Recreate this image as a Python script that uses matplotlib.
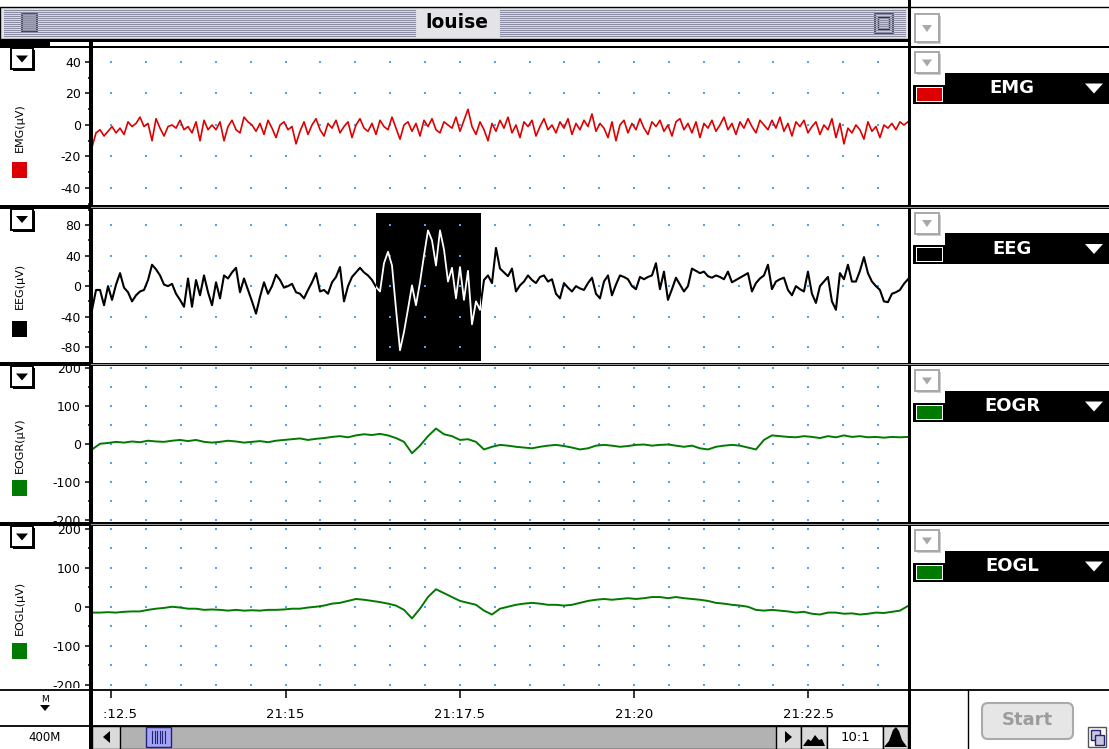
import numpy as np
import matplotlib
matplotlib.use("Agg")
import matplotlib.pyplot as plt
from matplotlib.patches import Rectangle, FancyBboxPatch, Polygon
from matplotlib.transforms import Bbox, TransformedBbox

plt.rcParams['font.family'] = 'DejaVu Sans'
plt.rcParams['axes.unicode_minus'] = False

# ---- recording (time in minutes after 21:00) ----
rec_start, rec_end = 12.222, 23.929
sel_start, sel_end = 16.30, 17.80      # highlighted EEG selection
sel_low, sel_high = -98, 96

channels = ['EMG', 'EEG', 'EOGR', 'EOGL']
unit = 'µV'
colors = ['#dd0000', '#000000', '#007a00', '#007a00']

emg = [-14, -5, -3, -7, -4, -1, -5, -2, -6, 2,
       -1, 1, 5, -1, 1, -10, 4, -2, -7, -1,
       0, -2, 3, -3, -1, -5, 2, -10, 3, -3,
       0, -3, 2, -10, -1, 3, -3, -5, 5, 2,
       0, -4, 1, -6, 3, -2, -8, 0, 2, -3,
       -1, -12, -4, 2, -6, 0, 4, -3, -7, 1,
       -2, 3, -5, -1, 2, -8, 0, 4, -2, -4,
       1, -6, 3, -1, -3, 5, -2, -9, 0, 2,
       -4, 1, -7, 3, -1, 4, -3, -5, 2, 0,
       -2, 5, -4, 3, 10, -1, -6, 2, -3, -10,
       1, -4, 3, -2, 5, -5, 0, -8, 2, -1,
       3, -7, -1, 4, -3, 0, -5, 2, -2, 4,
       -6, 1, -3, 3, -1, 7, -4, 1, -2, -8,
       2, -10, 0, 3, -5, 1, -3, 4, -2, -6,
       2, -1, 3, -4, 0, -7, 2, 4, -3, 1,
       -5, 2, -8, 1, -2, 3, -4, 0, 5, -3,
       1, -6, 2, -2, 4, -1, -5, 3, 0, -3,
       3, -2, 5, -4, 1, -7, 2, -1, 3, -5,
       -1, 2, -6, 0, -3, 4, -8, 1, -12, -2,
       -5, 0, -3, -9, 2, -4, -1, -8, 0, -2,
       1, -3, 2, 0, 2]

eeg = [-31, -5, -5, -25, 0, -18, 2, 17, -2, -8,
       -20, -12, -7, -5, 8, 28, 22, 14, 2, 0,
       3, -10, -18, -27, 10, -27, 8, -12, 14, -8,
       -25, 5, -16, 14, 10, 18, 24, -8, 10, -5,
       -20, -36, -14, 5, -10, 0, 15, 8, -2, 0,
       3, -8, -10, -16, -5, 5, 17, -7, -5, -10,
       5, 12, 25, -20, 0, 12, 18, 24, 18, 14,
       8, -1, -7, 30, 45, 27, -30, -84, -60, -30,
       1, -25, 5, 40, 73, 60, 27, 73, 48, 6,
       24, -16, 25, -18, 20, -50, -20, -31, 8, 14,
       4, 50, 23, 18, 13, 23, -7, 1, 6, 14,
       8, 4, 12, 14, 6, 9, -10, -16, 4, -2,
       -7, 0, -3, -5, 4, 11, -10, -16, 6, 14,
       -12, 2, 14, 12, 9, 0, -4, 12, 9, 12,
       14, 30, -4, 19, -18, -4, 11, 2, -7, 0,
       23, 20, 17, 19, 13, 11, 14, 12, 9, 19,
       5, 8, 11, 14, 17, -7, 4, 10, 14, 28,
       -4, 6, 9, 11, -5, -12, 0, -4, -7, 19,
       -10, -22, 0, 6, 12, -20, -31, 17, 9, 28,
       6, 6, 20, 38, 17, 6, 0, -5, -20, -21,
       -10, -8, -5, 3, 9]

eogr = [-15, 0, 2, 5, 3, 6, 4, 8, 6, 5,
        8, 10, 7, 10, 5, 3, 5, 8, 6, 3,
        5, 7, 4, 8, 10, 12, 14, 10, 13, 15,
        18, 20, 17, 22, 25, 23, 26, 22, 15, 5,
        -25, -5, 20, 40, 25, 20, 10, 12, 5, -15,
        -8, -3, -5, -8, -10, -12, -8, -5, -3, -6,
        -10, -15, -12, -5, -3, -5, -8, -6, -3, -2,
        -5, -3, -2, -5, -8, -5, -12, -15, -8, -5,
        -3, -5, -10, -15, 10, 22, 20, 18, 17, 20,
        18, 15, 20, 17, 22, 18, 20, 17, 18, 16,
        18, 17, 18]

eogl = [-15, -15, -14, -15, -13, -12, -12, -8, -5, -3,
        0, -2, -5, -5, -8, -7, -8, -10, -8, -10,
        -9, -10, -8, -8, -7, -5, -5, -2, 0, 3,
        8, 10, 15, 20, 18, 15, 12, 8, 3, -8,
        -30, -5, 25, 45, 35, 25, 15, 10, 5, -10,
        -20, -5, 0, 5, 8, 10, 8, 5, 5, 3,
        5, 10, 15, 18, 20, 18, 20, 22, 20, 22,
        25, 25, 22, 25, 22, 20, 18, 15, 10, 8,
        5, 3, 0, -8, -10, -8, -10, -12, -15, -13,
        -18, -20, -15, -15, -18, -17, -20, -18, -15, -16,
        -13, -10, 2]

time_ticks = [12.5, 15, 17.5, 20, 22.5]
time_labels = ['21:12.5', '21:15', '21:17.5', '21:20', '21:22.5']

yticks = [[-40, -20, 0, 20, 40], [-80, -40, 0, 40, 80],
          [-200, -100, 0, 100, 200], [-200, -100, 0, 100, 200]]
yminor = [[-50, -30, -10, 10, 30], [-100, -60, -20, 20, 60, 100],
          [-150, -50, 50, 150], [-150, -50, 50, 150]]
ygrid = [[-40, -20, 0, 20, 40], [-80, -40, 0, 40, 80],
         [-200, -150, -100, -50, 0, 50, 100, 150, 200],
         [-200, -150, -100, -50, 0, 50, 100, 150, 200]]
ylims = [(-50.8, 49.2), (-99.7, 102.3), (-206, 206), (-209, 209)]

series = [emg, eeg, eogr, eogl]
widths = [1.2, 1.5, 1.4, 1.4]

# ---- layout (pixels) ----
W, H = 1109, 749
fig = plt.figure(figsize=(W / 100, H / 100), dpi=100)


def frac(x0, y0, x1, y1):
    return [x0 / W, 1 - y1 / H, (x1 - x0) / W, (y1 - y0) / H]


def pix_bbox(x0, y0, x1, y1):
    return TransformedBbox(Bbox.from_extents(x0 / W, 1 - y1 / H, x1 / W, 1 - y0 / H),
                           fig.transFigure)


back = fig.add_axes([0, 0, 1, 1], zorder=0)
back.set_xlim(0, W)
back.set_ylim(H, 0)
back.axis('off')
front = fig.add_axes([0, 0, 1, 1], zorder=5)
front.set_xlim(0, W)
front.set_ylim(H, 0)
front.axis('off')

PX0, PX1 = 90.5, 908
XLIM = (12.2, 23.93)
rows = [(47.5, 205), (208, 362.5), (365.5, 522), (525.5, 688)]


def box(ax, x0, y0, x1, y1, **kw):
    ax.add_patch(Rectangle((x0, y0), x1 - x0, y1 - y0, **kw))


def menu_box(ax, x, y, w, h, active=True):
    edge = 'black' if active else '#a8a8a8'
    shadow = 'black' if active else '#cccccc'
    box(ax, x + 2, y + 2, x + w + 2, y + h + 2, facecolor=shadow, edgecolor='none')
    box(ax, x, y, x + w, y + h, facecolor='white', edgecolor=edge, lw=1.4)
    cx, cy = x + w / 2, y + h / 2
    s = 6 if active else 5
    ax.add_patch(Polygon([(cx - s, cy - 3), (cx + s, cy - 3), (cx, cy + 4)],
                         closed=True, facecolor=edge, edgecolor='none'))


# ---- title bar ----
box(back, 0, 7, 909, 39, facecolor='#e4e4e8', edgecolor='black', lw=1)
for yy in np.arange(10, 37, 2):
    back.plot([4, 415], [yy, yy], color='#8c8ca2', lw=0.8)
    back.plot([500, 905], [yy, yy], color='#8c8ca2', lw=0.8)
box(back, 20, 12, 38, 33, facecolor='#e4e4e8', edgecolor='none')
box(back, 22, 14, 37, 32, facecolor='#a8a8a8', edgecolor='#22227a', lw=1.2)
box(back, 872, 12, 896, 35, facecolor='#e4e4e8', edgecolor='none')
box(back, 875, 14, 893, 33, facecolor='#d0d0dc', edgecolor='#22227a', lw=1.2)
box(back, 878, 17, 889, 29, facecolor='none', edgecolor='#22227a', lw=1.0)
back.text(457, 23, 'louise', ha='center', va='center', fontsize=13.5, fontweight='bold')
back.plot([909, W], [6.5, 6.5], color='black', lw=1)
menu_box(back, 915, 14, 24, 28, active=False)

# ---- channel panels ----
grid_x = np.arange(12.5, rec_end, 0.5)
for i, name in enumerate(channels):
    y0, y1 = rows[i]
    ax = fig.add_axes(frac(PX0, y0, PX1, y1), zorder=2)
    vals = np.array(series[i])
    t = np.linspace(rec_start, rec_end, len(vals))
    ax.set_xlim(*XLIM)
    ax.set_ylim(*ylims[i])

    gx, gy = np.meshgrid(grid_x, ygrid[i])
    ax.scatter(gx.ravel(), gy.ravel(), s=2.6, marker='s', color='#4aa3ff',
               linewidths=0, zorder=2)
    if name == 'EEG':
        sel = Rectangle((sel_start, sel_low), sel_end - sel_start, sel_high - sel_low,
                        facecolor='black', edgecolor='none', zorder=1)
        ax.add_patch(sel)
    ax.plot(t, vals, color=colors[i], lw=widths[i], zorder=3)
    if name == 'EEG':
        inner, = ax.plot(t, vals, color='white', lw=1.3, zorder=4)
        inner.set_clip_path(sel)

    for s in ['top', 'right', 'bottom']:
        ax.spines[s].set_visible(False)
    ax.spines['left'].set_linewidth(2.9)
    ax.set_xticks([])
    ax.set_yticks(yticks[i])
    ax.set_yticks(yminor[i], minor=True)
    ax.tick_params(axis='y', which='major', length=4, width=1.1, pad=3, labelsize=9)
    ax.tick_params(axis='y', which='minor', length=2.5, width=1.1)
    clip = pix_bbox(0, y0, PX0, y1)
    for tk in ax.yaxis.get_major_ticks():
        tk.label1.set_clip_box(clip)
        tk.label1.set_clip_on(True)

    # left column: menu, channel label, colour swatch
    c = (y0 + y1) / 2
    menu_box(front, 11, y0 + 0.5, 22, 21)
    front.text(20, c + 1, f'{name}({unit})', rotation=90, ha='center', va='center',
               fontsize=8)
    box(front, 12, c + 36, 27, c + 52, facecolor=colors[i], edgecolor='none')

    # right column: channel selector
    menu_box(front, 915, y0 + 4.5, 24, 21, active=False)
    box(front, 945, y0 + 25, W, y0 + 56, facecolor='black', edgecolor='none')
    box(front, 913, y0 + 37, 946, y0 + 56, facecolor='black', edgecolor='none')
    box(front, 915.5, y0 + 39, 943, y0 + 54, facecolor='white', edgecolor='none')
    box(front, 916.5, y0 + 40, 942, y0 + 53, facecolor=colors[i], edgecolor='none')
    front.text(1012, y0 + 40.5, name, color='white', fontsize=13, fontweight='bold',
               ha='center', va='center')
    front.add_patch(Polygon([(1085, y0 + 36), (1103, y0 + 36), (1094, y0 + 46)],
                            closed=True, facecolor='white', edgecolor='none'))

# ---- time axis row ----
tax = fig.add_axes(frac(PX0, 689.5, PX1, 725), zorder=2)
tax.set_xlim(*XLIM)
tax.set_ylim(0, 1)
for s in tax.spines.values():
    s.set_visible(False)
tax.set_yticks([])
tax.xaxis.tick_top()
tax.set_xticks(time_ticks, time_labels)
tax.tick_params(axis='x', direction='in', length=5.5, width=1.1, pad=-23, labelsize=9.5)
tclip = pix_bbox(103, 689, PX1, 725)
for tk in tax.xaxis.get_major_ticks():
    tk.label2.set_clip_box(tclip)
    tk.label2.set_clip_on(True)

front.text(45, 700, 'M', ha='center', va='center', fontsize=6.5)
front.add_patch(Polygon([(40, 705), (50, 705), (45, 711)], closed=True,
                        facecolor='black', edgecolor='none'))
front.text(45, 737.5, '400M', ha='center', va='center', fontsize=8.5)

# ---- scroll bar row ----
box(front, 92, 725.5, 908, 748.5, facecolor='#b2b2b2', edgecolor='black', lw=1)
box(front, 92, 725.5, 120, 748.5, facecolor='#dadada', edgecolor='black', lw=1)
front.add_patch(Polygon([(110, 731), (110, 743), (103, 737)], closed=True,
                        facecolor='black', edgecolor='none'))
box(front, 146, 727, 171, 747, facecolor='#a4a4f4', edgecolor='#22227a', lw=1)
for xx in np.arange(152, 166, 2.6):
    front.plot([xx, xx], [731, 743], color='#22227a', lw=0.8)
box(front, 776, 725.5, 801, 748.5, facecolor='#dadada', edgecolor='black', lw=1)
front.add_patch(Polygon([(785, 731), (785, 743), (792, 737)], closed=True,
                        facecolor='black', edgecolor='none'))
box(front, 801, 725.5, 827, 748.5, facecolor='#dadada', edgecolor='black', lw=1)
front.add_patch(Polygon([(803, 746), (808, 739), (811, 741), (815, 735), (819, 740),
                         (822, 739), (825, 746)], closed=True, facecolor='black'))
box(front, 827, 725.5, 883, 748.5, facecolor='white', edgecolor='black', lw=1)
front.text(855, 737.5, '10:1', ha='center', va='center', fontsize=9.5)
box(front, 883, 725.5, 908, 748.5, facecolor='#dadada', edgecolor='black', lw=1)
front.add_patch(Polygon([(884, 747), (889, 741), (893, 730), (896, 727), (899, 731),
                         (902, 740), (907, 747)], closed=True, facecolor='black'))

# ---- start button & corner ----
front.add_patch(FancyBboxPatch((982, 703), 91, 36, boxstyle='round,pad=0,rounding_size=6',
                               facecolor='#e6e6e6', edgecolor='#aaaaaa', lw=1.5))
front.text(1027, 720, 'Start', ha='center', va='center', fontsize=13,
           fontweight='bold', color='#9c9c9c')
box(front, 1088, 727, 1106, 747, facecolor='white', edgecolor='#555555', lw=1)
box(front, 1091, 730, 1100, 740, facecolor='#c8c8dc', edgecolor='#22227a', lw=1)
box(front, 1095, 735, 1104, 745, facecolor='#c8c8dc', edgecolor='#22227a', lw=1)

# ---- separators and frame lines ----
box(front, 0, 39, 909, 41.5, facecolor='black', edgecolor='none')
box(front, 0, 41.5, 50, 47.5, facecolor='black', edgecolor='none')
box(front, 0, 45.5, W, 47.5, facecolor='black', edgecolor='none')
for s in [205, 362.5, 522]:
    box(front, 0, s - 0.5, 91, s + 3.5, facecolor='black', edgecolor='none')
    box(front, 91, s, W, s + 3.5, facecolor='black', edgecolor='none')
    front.plot([91, W], [s + 1.75, s + 1.75], color='#9a9a9a', lw=0.8)
front.plot([0, W], [689.5, 689.5], color='black', lw=1.3)
front.plot([0, 909], [725.5, 725.5], color='black', lw=1.3)
box(front, 88.5, 40, 92.5, H, facecolor='black', edgecolor='none')
box(front, 908, 0, 911, H, facecolor='black', edgecolor='none')
front.plot([968, 968], [689.5, H], color='black', lw=1)

fig.savefig('out.png', dpi=100)
